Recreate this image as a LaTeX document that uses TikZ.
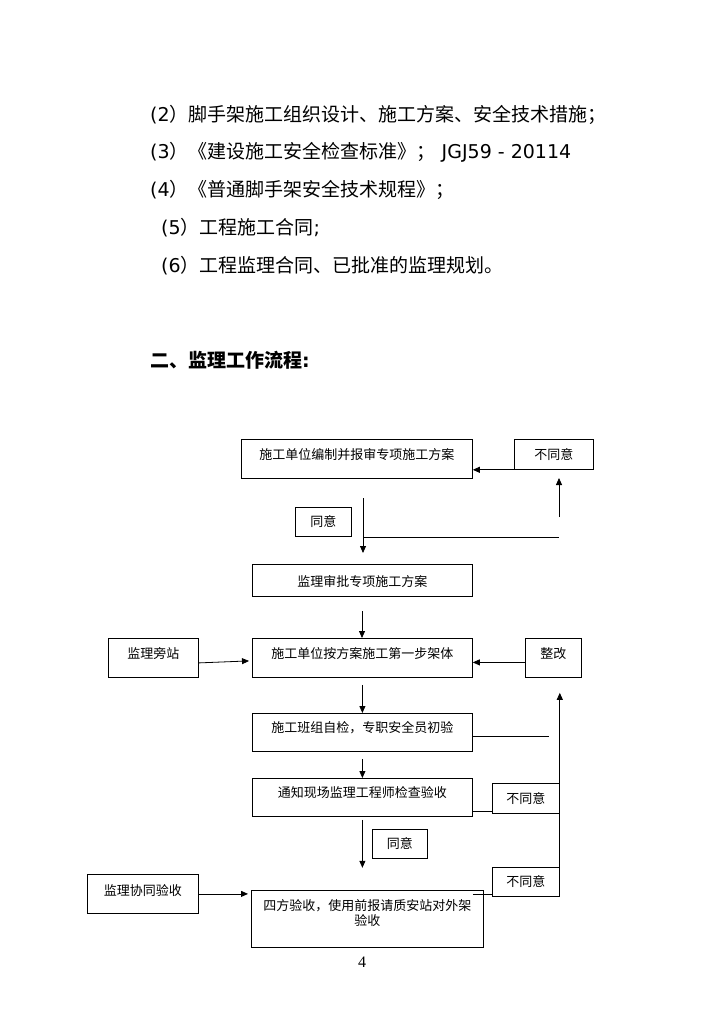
\documentclass[tikz,border=0pt]{standalone}
\usepackage{fontspec}
\setmainfont{DejaVu Sans}
\newfontfamily\cjk{Noto Sans CJK SC}
\newfontfamily\pgnum{Liberation Serif}
\usetikzlibrary{arrows.meta}
\begin{document}
\begin{tikzpicture}[x=1pt,y=-1pt,
  fbox/.style={draw, line width=0.8pt, inner xsep=0pt, inner ysep=0pt, anchor=north west,
    font=\cjk\fontsize{13}{15}\selectfont, text height=20pt},
  conn/.style={line width=0.8pt},
  arr/.style={conn, -{Triangle[length=7pt,width=6pt]}},
  listtxt/.style={anchor=base west, inner sep=0pt, font=\fontsize{19}{23}\selectfont}
]
\useasboundingbox[fill=white] (0,0) rectangle (724,1024);

% top text
\node[listtxt] (l2) at (150,122) {(2{\cjk ）脚手架施工组织设计、施工方案、安全技术措施；}};
\node[listtxt] (l3) at (150,159) {(3{\cjk ）《建设施工安全检查标准》；} JGJ59 - 20114};
\node[listtxt] (l4) at (150,197) {(4{\cjk ）《普通脚手架安全技术规程》；}};
\node[listtxt] (l5) at (161,235) {(5{\cjk ）工程施工合同};};
\node[listtxt] (l6) at (161,272) {(6{\cjk ）工程监理合同、已批准的监理规划。}};
\node[listtxt, font=\fontsize{19}{23}\selectfont\bfseries] (h2) at (150,367) {{\cjk 二、监理工作流程}:};

% boxes
\node[fbox, minimum width=231pt, text depth=19pt] (b1) at (241,439) {施工单位编制并报审专项施工方案};
\node[fbox, minimum width=79pt, text depth=10pt] (n1) at (514,439) {不同意};
\node[fbox, minimum width=56pt, text depth=10pt, text height=19pt] (ty1) at (295,507) {同意};
\node[fbox, minimum width=220pt, text depth=10pt, text height=22pt] (b2) at (252,564) {监理审批专项施工方案};
\node[fbox, minimum width=220pt, text depth=19pt] (b3) at (252,638) {施工单位按方案施工第一步架体};
\node[fbox, minimum width=90pt, text depth=19pt] (pz) at (108,638) {监理旁站};
\node[fbox, minimum width=56pt, text depth=19pt] (zg) at (525,638) {整改};
\node[fbox, minimum width=220pt, text depth=19pt, text height=19pt] (b4) at (252,713) {施工班组自检，专职安全员初验};
\node[fbox, minimum width=220pt, text depth=19pt, text height=19pt] (b5) at (252,778) {通知现场监理工程师检查验收};
\node[fbox, minimum width=67pt, text depth=10pt] (n2) at (492,783) {不同意};
\node[fbox, minimum width=55pt, text depth=10pt, text height=19pt] (ty2) at (372,829) {同意};
\node[fbox, minimum width=67pt, text depth=10pt, text height=19pt] (n3) at (492,867) {不同意};
\node[fbox, minimum width=111pt, text depth=18pt, text height=21pt] (xt) at (87,874) {监理协同验收};
\node[draw, line width=0.8pt, inner sep=0pt, anchor=north west, minimum width=232pt, minimum height=57pt] (b6) at (251,890) {};
\node[anchor=north, align=center, inner sep=0pt, font=\cjk\fontsize{13}{15}\selectfont] (b6t) at ([yshift=-9pt]b6.north) {四方验收，使用前报请质安站对外架\\验收};

\node[inner sep=0pt, font=\pgnum\fontsize{16}{18}\selectfont] (pg) at (362,962) {4};

% connectors
\draw[arr] (n1.south west) -- (n1.south west -| b1.east);
\coordinate (u1a) at (559,517);
\coordinate (u1b) at (559,478);
\draw[arr] (u1a) -- (u1b);
\coordinate (h1a) at (363,537);
\coordinate (h1b) at (559,537);
\draw[conn] (h1a) -- (h1b);
\coordinate (v1a) at (363,498);
\coordinate (v1b) at (363,553);
\draw[arr] (v1a) -- (v1b);
\coordinate (v2a) at (362,611);
\draw[arr] (v2a) -- (v2a |- b3.north);
\draw[arr] ([yshift=-5pt]pz.east) -- ([yshift=-3pt,xshift=-3pt]b3.west);
\draw[arr] ([yshift=-4.5pt]zg.west) -- ([yshift=-4.5pt]zg.west -| b3.east);
\draw[arr] ([yshift=-7pt]b3.south) -- (b4.north);
\draw[conn] ([yshift=-23pt]b4.north east) -- ++(76,0);
\draw[arr] ([yshift=-7pt]b4.south) -- (b5.north);
\draw[conn] ([yshift=-33pt]b5.north east) -- ([yshift=-33pt]b5.north east -| n2.west);
\coordinate (zgt) at ([yshift=-15pt]zg.south);
\draw[arr] (n3.north east) -- (n3.north east |- zgt);
\draw[arr] ([yshift=-3pt]b5.south) -- ++(0,48);
\draw[conn] ([xshift=-11pt,yshift=-4pt]b6.north east) -- ([yshift=-4pt]b6.north east -| n3.west);
\draw[arr] (xt.east) -- ([xshift=-3pt]xt.east -| b6.west);
\end{tikzpicture}
\end{document}
